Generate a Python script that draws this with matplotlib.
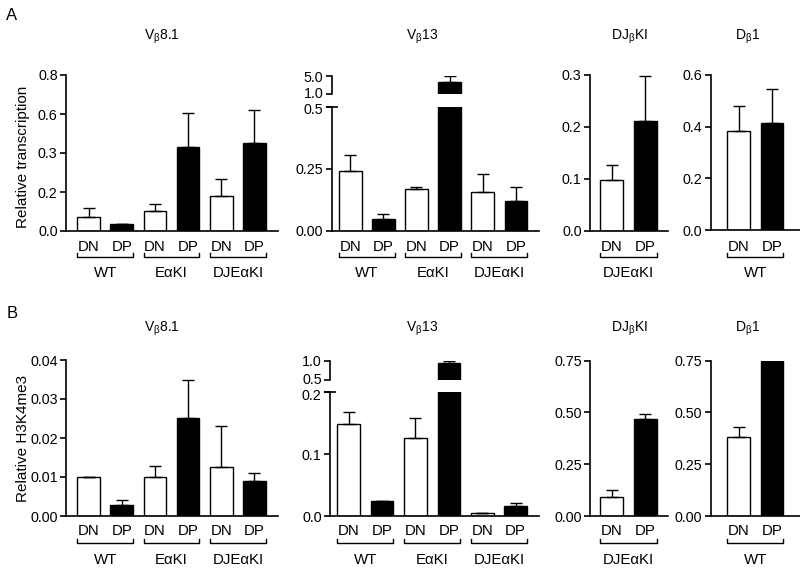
import matplotlib
matplotlib.use('Agg')
import matplotlib.pyplot as plt
import matplotlib.transforms as mtrans
import numpy as np

plt.rcParams['font.family'] = ['Liberation Sans', 'DejaVu Sans']
plt.rcParams['mathtext.fontset'] = 'custom'
plt.rcParams['mathtext.rm'] = 'Liberation Sans'
plt.rcParams['mathtext.it'] = 'Liberation Sans:italic'

W, H = 800, 571

# categories
cells = ['DN', 'DP']
groups3 = ['WT', 'EαKI', 'DJEαKI']
fills = ['white', 'black']

# A: relative transcription
a_vb81 = [0.073, 0.034, 0.105, 0.432, 0.179, 0.453]
a_vb81_err = [0.043, 0.004, 0.036, 0.174, 0.090, 0.166]
a_vb13 = [0.243, 0.048, 0.170, 3.75, 0.157, 0.122]
a_vb13_err = [0.063, 0.019, 0.006, 1.20, 0.073, 0.054]
a_djb = [0.0975, 0.212]
a_djb_err = [0.030, 0.087]
a_db1 = [0.382, 0.415]
a_db1_err = [0.098, 0.132]

# B: relative H3K4me3
b_vb81 = [0.0100, 0.0028, 0.0099, 0.0251, 0.0125, 0.0089]
b_vb81_err = [0.0, 0.0013, 0.0028, 0.0098, 0.0105, 0.0022]
b_vb13 = [0.149, 0.0248, 0.126, 0.948, 0.0044, 0.0162]
b_vb13_err = [0.019, 0.0, 0.032, 0.042, 0.0006, 0.0053]
b_djb = [0.092, 0.468]
b_djb_err = [0.034, 0.025]
b_db1 = [0.383, 0.747]
b_db1_err = [0.045, 0.003]

BW = 0.68
TICK_FS = 10.3
LAB_FS = 10.8
fig = plt.figure(figsize=(8, 5.71), dpi=100)


def px_axes(l, t, r, b):
    return fig.add_axes([l / W, 1 - b / H, (r - l) / W, (b - t) / H])


def style(ax, bottom=True):
    for s in ['top', 'right']:
        ax.spines[s].set_visible(False)
    ax.spines['left'].set_linewidth(1.2)
    ax.spines['bottom'].set_linewidth(1.2)
    ax.spines['bottom'].set_visible(bottom)
    ax.tick_params(axis='y', direction='out', length=4, width=1.2, labelsize=TICK_FS, pad=2)
    ax.set_xticks([])


def draw(ax, vals, errs):
    x = np.arange(len(vals))
    ax.bar(x, vals, width=BW, color=fills * (len(vals) // 2), edgecolor='black', linewidth=1.0)
    ax.errorbar(x, vals, yerr=[np.zeros(len(errs)), errs], fmt='none', ecolor='black',
                elinewidth=1.0, capsize=4.3, capthick=1.0)


def under(ax, groups, y_lab, y_br, y_grp):
    tr = mtrans.blended_transform_factory(ax.transData, fig.transFigure)
    for k, name in enumerate(groups):
        for j in range(2):
            ax.text(2 * k + j, 1 - y_lab / H, cells[j], transform=tr, ha='center',
                    va='center', fontsize=LAB_FS)
        x0, x1 = 2 * k - BW / 2, 2 * k + 1 + BW / 2
        yb, yt = 1 - y_br / H, 1 - (y_br - 4) / H
        ax.plot([x0, x0, x1, x1], [yt, yb, yb, yt], transform=tr, color='black',
                lw=1.0, clip_on=False)
        ax.text((x0 + x1) / 2, 1 - y_grp / H, name, transform=tr, ha='center',
                va='center', fontsize=LAB_FS)


def simple(l, t, r, b, xl, vals, errs, ylim, ticks, labels, groups, rowy):
    ax = px_axes(l, t, r, b)
    draw(ax, vals, errs)
    ax.set_xlim(*xl)
    ax.set_ylim(*ylim)
    ax.set_yticks(ticks)
    ax.set_yticklabels(labels)
    style(ax)
    under(ax, groups, *rowy)
    return ax


def broken(l, tu, bu, tl, r, b, xl, vals, errs, ylo, lo_ticks, lo_labels, yhi, hi_ticks, hi_labels, rowy):
    lo = px_axes(l, tl, r, b)
    hi = px_axes(l, tu, r, bu)
    for ax in (lo, hi):
        draw(ax, vals, errs)
        ax.set_xlim(*xl)
    lo.set_ylim(*ylo)
    lo.set_yticks(lo_ticks)
    lo.set_yticklabels(lo_labels)
    hi.set_ylim(*yhi)
    hi.set_yticks(hi_ticks)
    hi.set_yticklabels(hi_labels)
    style(lo)
    style(hi, bottom=False)
    lo.plot([0], [1], transform=lo.transAxes, marker='_', markersize=8, mew=1.2,
            color='black', clip_on=False)
    # nudge the two crowded labels at the break apart a little
    up = mtrans.ScaledTranslation(0, 2 / 100, fig.dpi_scale_trans)
    down = mtrans.ScaledTranslation(0, -2 / 100, fig.dpi_scale_trans)
    lab = hi.get_yticklabels()[0]
    lab.set_transform(lab.get_transform() + up)
    lab = lo.get_yticklabels()[-1]
    lab.set_transform(lab.get_transform() + down)
    under(lo, groups3, *rowy)
    return lo, hi


rowA = (247, 257, 273)
rowB = (531, 543, 560)

# row A
simple(66, 75, 278, 231, (-0.68, 5.71), a_vb81, a_vb81_err, (0, 0.8),
       [0, 0.2, 0.4, 0.6, 0.8], ['0.0', '0.2', '0.3', '0.6', '0.8'], groups3, rowA)
broken(331.7, 76, 94.3, 106.7, 539, 231, (-0.56, 5.70), a_vb13, a_vb13_err,
       (0, 0.5), [0, 0.25, 0.5], ['0.00', '0.25', '0.5'], (1, 5), [1, 5], ['1.0', '5.0'], rowA)
simple(590, 75, 668, 231, (-0.65, 1.68), a_djb, a_djb_err, (0, 0.3),
       [0, 0.1, 0.2, 0.3], ['0.0', '0.1', '0.2', '0.3'], ['DJEαKI'], rowA)
simple(710.7, 75, 800, 230, (-0.84, 1.84), a_db1, a_db1_err, (0, 0.6),
       [0, 0.2, 0.4, 0.6], ['0.0', '0.2', '0.4', '0.6'], ['WT'], rowA)

# row B
simple(66, 360, 278, 516, (-0.68, 5.71), b_vb81, b_vb81_err, (0, 0.04),
       [0, 0.01, 0.02, 0.03, 0.04], ['0.00', '0.01', '0.02', '0.03', '0.04'], groups3, rowB)
broken(330, 360.7, 380, 392.3, 539, 516, (-0.56, 5.70), b_vb13, b_vb13_err,
       (0, 0.2), [0, 0.1, 0.2], ['0.0', '0.1', '0.2'], (0.5, 1.0), [0.5, 1.0], ['0.5', '1.0'], rowB)
simple(590, 360.7, 668, 516, (-0.65, 1.68), b_djb, b_djb_err, (0, 0.75),
       [0, 0.25, 0.5, 0.75], ['0.00', '0.25', '0.50', '0.75'], ['DJEαKI'], rowB)
simple(710.7, 360.7, 800, 516, (-0.84, 1.84), b_db1, b_db1_err, (0, 0.75),
       [0, 0.25, 0.5, 0.75], ['0.00', '0.25', '0.50', '0.75'], ['WT'], rowB)

# titles
titles = [r'V$_\mathrm{β}$8.1', r'V$_\mathrm{β}$13', r'DJ$_\mathrm{β}$KI', r'D$_\mathrm{β}$1']
title_x = [162, 422, 629, 748]
for tx, tt in zip(title_x, titles):
    fig.text(tx / W, 1 - 37 / H, tt, ha='center', va='center', fontsize=10)
    fig.text(tx / W, 1 - 329 / H, tt, ha='center', va='center', fontsize=10)

fig.text(23 / W, 1 - 157 / H, 'Relative transcription', rotation=90, ha='center', va='center', fontsize=11)
fig.text(23 / W, 1 - 438 / H, 'Relative H3K4me3', rotation=90, ha='center', va='center', fontsize=11)
fig.text(12 / W, 1 - 15 / H, 'A', ha='center', va='center', fontsize=12)
fig.text(12 / W, 1 - 313 / H, 'B', ha='center', va='center', fontsize=12)

fig.savefig('out.png', dpi=100)
